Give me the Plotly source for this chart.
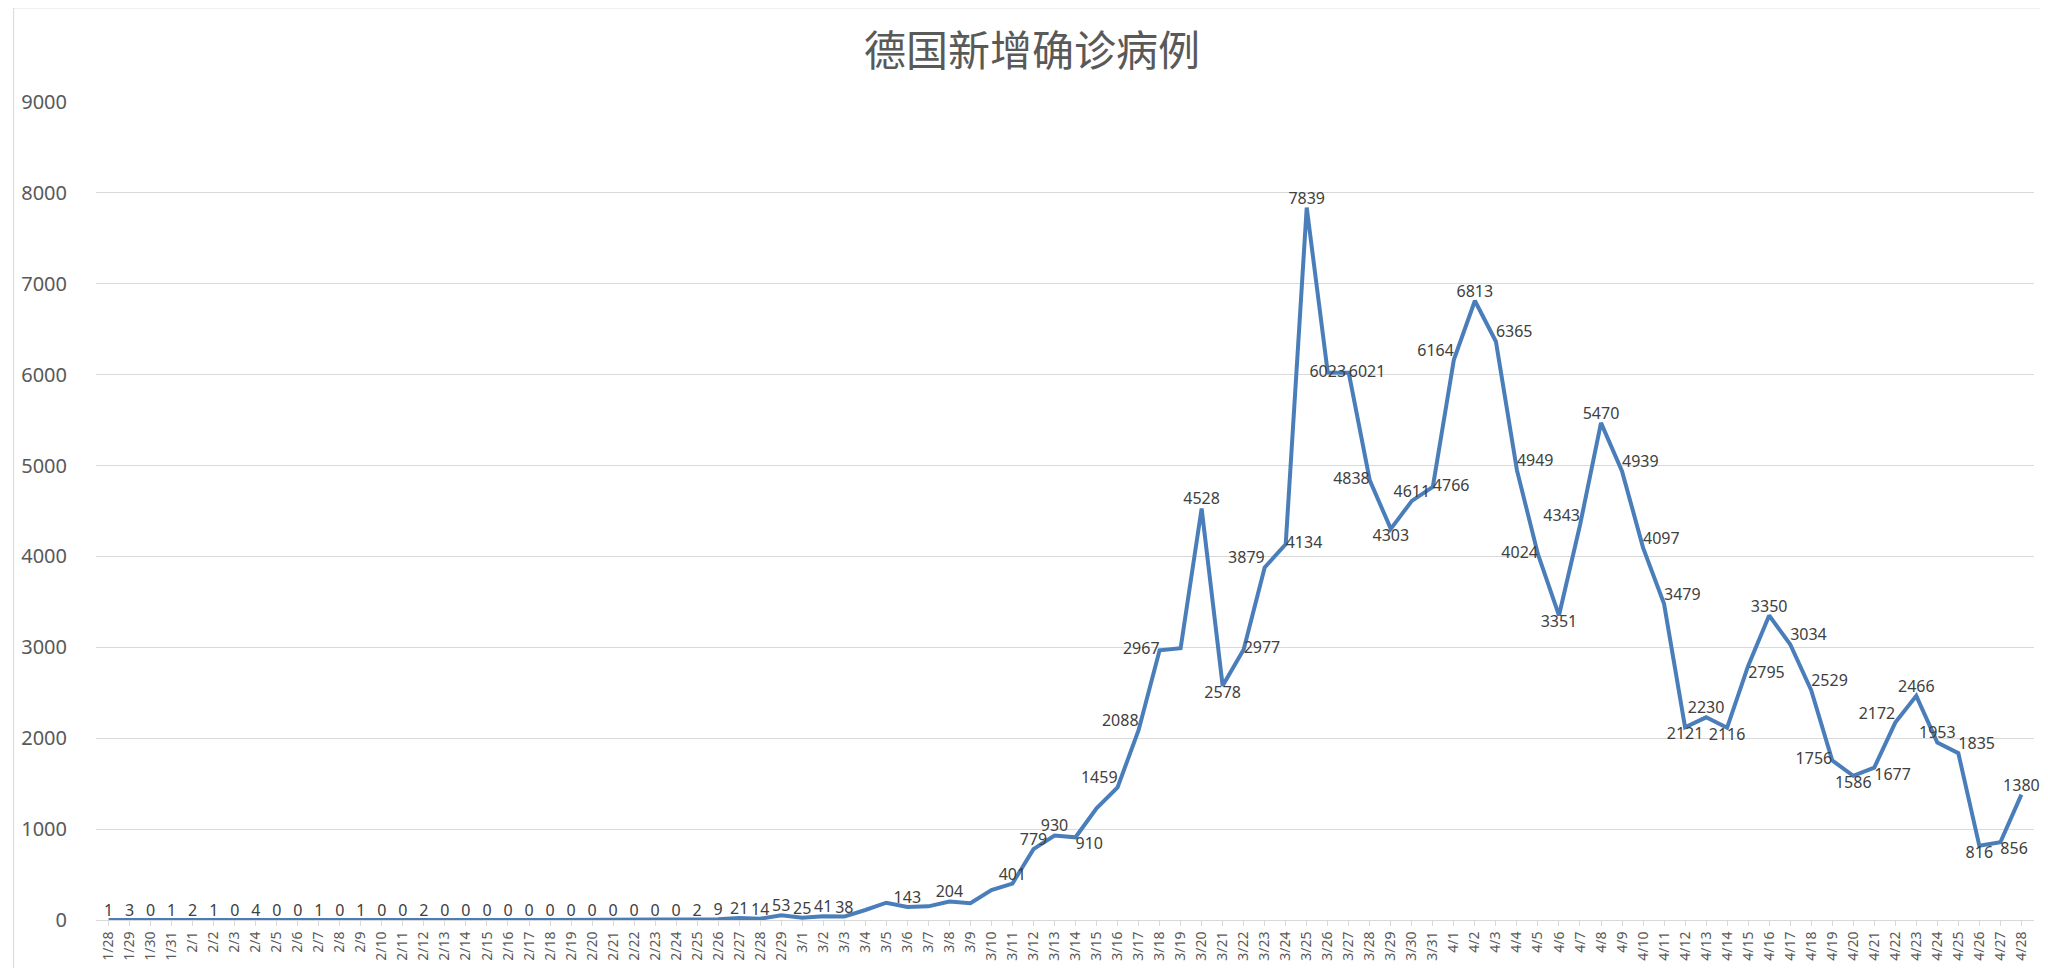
import plotly.graph_objects as go

dates = (["1/28", "1/29", "1/30", "1/31"]
         + [f"2/{d}" for d in range(1, 30)]
         + [f"3/{d}" for d in range(1, 32)]
         + [f"4/{d}" for d in range(1, 29)])

cases = [1, 3, 0, 1, 2, 1, 0, 4, 0, 0, 1, 0, 1, 0, 0, 2,
         0, 0, 0, 0, 0, 0, 0, 0, 0, 0, 0, 0, 2, 9, 21, 14, 53,
         25, 41, 38, 110, 190, 143, 150, 204, 185, 330, 401, 779, 930, 910,
         1230, 1459, 2088, 2967, 2990, 4528, 2578, 2977, 3879, 4134, 7839,
         6023, 6021, 4838, 4303, 4611, 4766,
         6164, 6813, 6365, 4949, 4024, 3351, 4343, 5470, 4939, 4097, 3479,
         2121, 2230, 2116, 2795, 3350, 3034, 2529, 1756, 1586, 1677, 2172,
         2466, 1953, 1835, 816, 856, 1380]

unlabeled = {"3/4", "3/5", "3/7", "3/9", "3/10", "3/15", "3/19"}
labels = ["" if d in unlabeled else str(v) for d, v in zip(dates, cases)]

pos = {"3/14": "bottom right", "3/16": "top left", "3/17": "top left", "3/18": "middle left",
       "3/21": "bottom center", "3/22": "middle right", "3/23": "top left",
       "3/24": "middle right", "3/26": "middle center", "3/27": "middle right",
       "3/28": "middle left", "3/29": "bottom center", "3/30": "top center",
       "3/31": "middle right", "4/1": "top left", "4/3": "top right", "4/4": "top right",
       "4/5": "middle left", "4/6": "bottom center", "4/7": "top left",
       "4/9": "top right", "4/10": "top right", "4/11": "top right",
       "4/12": "bottom center", "4/14": "bottom center", "4/15": "bottom right",
       "4/17": "top right", "4/18": "top right", "4/19": "middle left",
       "4/20": "bottom center", "4/21": "bottom right", "4/22": "top left",
       "4/24": "top center", "4/25": "top right", "4/26": "bottom center",
       "4/27": "bottom right", "4/28": "top center"}
textpos = [pos.get(d, "top center") for d in dates]

fig = go.Figure(go.Scatter(
    x=dates, y=cases, mode="lines+text", text=labels, textposition=textpos,
    textfont=dict(family="Noto Sans, Open Sans", size=16, color="#404040"),
    line=dict(color="#4a7ebb", width=4), cliponaxis=False, hoverinfo="x+y"))

fig.update_layout(
    width=2048, height=968, showlegend=False,
    title=dict(text="德国新增确诊病例", x=0.5, y=0.97, xanchor="center",
               font=dict(family="Noto Sans CJK SC", size=42, color="#595959")),
    margin=dict(l=88, r=22, t=94, b=56),
    plot_bgcolor="white", paper_bgcolor="white",
    xaxis=dict(type="category", tickangle=-90, showgrid=False, ticks="outside",
               ticklen=5, tickcolor="#d9d9d9", showline=True, linecolor="#d9d9d9",
               tickfont=dict(family="Noto Sans", size=14, color="#595959"),
               range=[-0.6, len(dates) - 0.4]),
    yaxis=dict(range=[0, 9000], dtick=1000, showgrid=True, gridcolor="#d9d9d9",
               zeroline=False, showline=False,
               tickfont=dict(family="Noto Sans", size=20, color="#595959")),
    shapes=[dict(type="rect", xref="paper", yref="paper", x0=-0.0425, x1=1.0105,
                 y0=-0.07, y1=1.115, line=dict(color="#d9d9d9", width=1))],
)
fig.update_yaxes(ticklabelstandoff=28)

fig.write_html("out.html")
